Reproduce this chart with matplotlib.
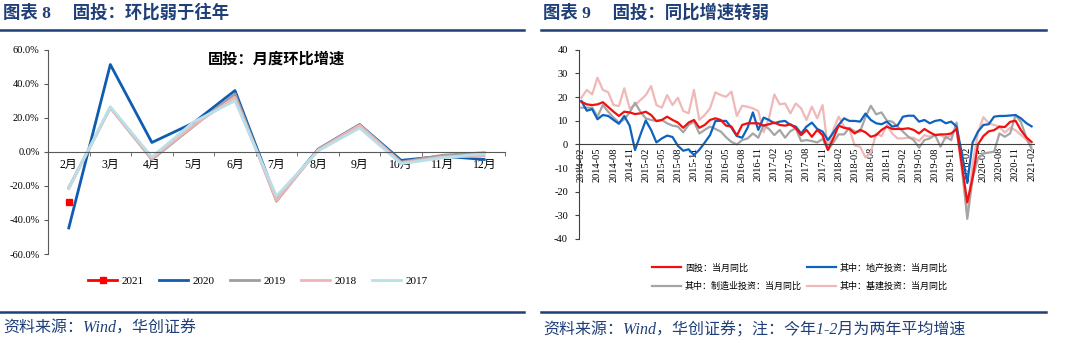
import numpy as np
import pandas as pd
import matplotlib
matplotlib.use('Agg')
import matplotlib.pyplot as plt
from matplotlib.lines import Line2D

plt.rcParams['font.family'] = ['Liberation Serif', 'Noto Sans CJK SC', 'DejaVu Sans']
plt.rcParams['axes.unicode_minus'] = False

# ---- 图表8：固投月度环比（%）----
months_cn = ['2月', '3月', '4月', '5月', '6月', '7月', '8月', '9月', '10月', '11月', '12月']
mom_2021 = [-29.3]
mom_2020 = [-44.7, 51.3, 5.5, 17.0, 36.0, -28.0, 1.5, 16.0, -5.0, -2.5, -4.5]
mom_2019 = [-21.0, 26.0, -4.5, 15.0, 34.0, -29.0, 1.5, 16.0, -6.0, -2.0, -0.5]
mom_2018 = [-21.5, 26.0, -4.0, 15.5, 32.0, -28.5, 1.0, 15.5, -6.5, -3.0, -2.5]
mom_2017 = [-21.5, 26.5, -3.0, 17.5, 30.0, -26.0, 0.5, 14.0, -7.0, -3.5, -1.0]

# ---- 图表9：当月同比（%），2014-02 ~ 2021-02 ----
month_labels = list(pd.period_range('2014-02', '2021-02', freq='M').strftime('%Y-%m'))
fai_yoy = [18.0, 16.9, 16.6, 16.9, 17.8, 15.8, 13.8, 12.0, 13.8, 13.5, 12.8, 13.1,
           13.8, 12.4, 9.8, 10.3, 11.7, 10.3, 9.2, 7.0, 9.2, 10.3, 7.0, 8.2,
           10.3, 11.0, 10.3, 7.9, 7.5, 3.7, 8.2, 8.9, 8.9, 8.9, 7.9, 8.5,
           9.2, 8.2, 7.9, 8.5, 6.8, 3.9, 6.1, 3.2, 6.1, 3.9, -2.4, 2.5,
           7.9, 7.0, 6.5, 4.6, 6.1, 5.1, 3.2, 3.9, 6.1, 7.5, 6.5, 6.5,
           6.5, 6.8, 6.1, 4.6, 6.5, 5.1, 3.9, 4.2, 4.2, 4.6, 6.5, -9.0,
           -24.5, -14.0, 0.0, 3.5, 5.5, 6.0, 7.5, 7.3, 9.5, 10.0, 6.0, 3.0, 1.0]
estate_yoy = [18.3, 14.2, 14.9, 10.6, 12.4, 12.0, 10.3, 8.7, 12.0, 7.9, -2.4, 4.0,
              10.1, 6.1, 0.8, 2.5, 3.7, 3.1, -0.6, -2.7, -2.1, -4.5, -2.3, 0.7, 3.9, 9.9, 9.9,
              9.9, 7.0, 3.5, 2.8, 7.0, 13.5, 6.1, 11.3, 10.3, 8.9, 9.6, 9.9, 8.2, 7.5,
              4.6, 7.5, 9.2, 6.5, 5.4, 1.8, 5.0, 8.2, 11.0, 9.9, 9.9, 9.6, 13.0,
              10.3, 8.9, 8.5, 9.6, 7.5, 8.0, 11.7, 12.1, 12.1, 9.6, 10.3, 8.9, 9.9, 10.3,
              8.9, 9.6, 7.5, -4.0, -16.3, 0.8, 5.4, 8.2, 8.5, 11.7, 12.0, 12.0, 12.2,
              12.4, 11.0, 9.0, 7.6]
manu_yoy = [15.5, 15.5, 15.5, 11.7, 16.6, 13.8, 11.3, 9.2, 10.6, 13.5, 17.6, 13.8,
            11.0, 10.3, 9.9, 10.3, 8.9, 7.9, 7.5, 5.1, 8.2, 9.6, 4.6, 6.1, 7.5, 6.5, 5.4,
            3.0, 1.0, 0.0, 1.8, 2.5, 4.6, 2.8, 8.2, 6.5, 3.9, 6.1, 2.8, 5.6, 6.8,
            1.4, 1.8, 1.4, 0.8, 2.3,
            -2.4, 0.8, 4.2, 4.2, 7.0, 5.4, 5.4, 11.5, 16.3, 12.7, 13.5, 10.0, 9.6,
            7.5, 5.4, 3.2, 1.8, -1.4, 1.8, 2.5, 3.9, -1.0, 3.2, 1.8, 9.2, -8.7,
            -31.5, -14.4, -5.9, -3.8, -3.5, -3.1, 4.6, 3.2, 4.6, 12.4, 9.5, 3.0, -2.0]
infra_yoy = [19.7, 23.0, 21.1, 28.2, 23.0, 22.0, 16.6, 16.2, 23.7, 15.2, 16.6, 18.7,
             20.8, 24.6, 16.6, 15.5, 20.8, 16.6, 19.7, 14.1, 13.1, 23.0, 10.3, 12.4, 15.2,
             22.0, 20.8,
             20.1, 22.3, 12.0, 16.3, 15.9, 15.2, 14.1, 5.1, 11.0, 21.1, 16.9, 17.3, 13.1,
             17.3, 15.2, 10.3, 15.9, 11.0, 16.6,
             -2.0, 6.1, 11.7, 7.5, 6.5, -0.5, -1.0, -5.5, -3.5, 4.6, 3.5, 8.2, 4.5,
             2.5, 2.5, 2.8, 2.8, 1.4, 3.9, 3.2, 4.2, 3.9, 2.5, 3.9, 7.0, -11.5,
             -30.0, -8.0, 5.0, 11.5, 8.9, 8.2, 7.5, 5.0, 7.0, 6.0, 4.0, 2.0, -1.0]

NAVY = '#1f3f78'
W, H = 1072, 350

fig = plt.figure(figsize=(W / 100, H / 100), dpi=100)


def fx(px):
    return px / W


def fy(px):
    return 1 - px / H


# 标题、横线、来源
title_font = dict(family=['Liberation Serif', 'Noto Sans CJK SC'], weight='bold',
                  color=NAVY, fontsize=12.5, va='center', ha='left')
fig.text(fx(3), fy(13), '图表 8\u3000 固投：环比弱于往年', **title_font)
fig.text(fx(543), fy(13), '图表 9\u3000 固投：同比增速转弱', **title_font)
for y in (30, 311.5):
    fig.add_artist(Line2D([fx(0), fx(524)], [fy(y), fy(y)], color=NAVY, lw=1.8))
    fig.add_artist(Line2D([fx(541), fx(1046)], [fy(y), fy(y)], color=NAVY, lw=1.8))
src_font = dict(family=['Liberation Serif', 'Noto Sans CJK SC'], style='italic',
                color=NAVY, fontsize=11.5, va='center', ha='left')
fig.text(fx(3), fy(329), '资料来源：Wind，华创证券', **src_font)
fig.text(fx(543), fy(330), '资料来源：Wind，华创证券；注：今年1-2月为两年平均增速', **src_font)

# ---- 左图 ----
ax1 = fig.add_axes([fx(48), fy(254), fx(505 - 48), (254 - 49.7) / H])
x = np.arange(len(months_cn))
ax1.plot(x[:len(mom_2021)], mom_2021, color='#ff0000', marker='s', ms=5, lw=2, label='2021')
ax1.plot(x, mom_2020, color='#0f5db0', lw=2, label='2020')
ax1.plot(x, mom_2019, color='#9e9e9e', lw=2, label='2019')
ax1.plot(x, mom_2018, color='#f0b4b4', lw=2, label='2018')
ax1.plot(x, mom_2017, color='#b9dfe9', lw=2, label='2017')
for s in ('top', 'right'):
    ax1.spines[s].set_visible(False)
ax1.spines['bottom'].set_position(('data', 0))
ax1.spines['bottom'].set_color('#595959')
ax1.spines['left'].set_color('#595959')
ax1.set_xlim(-0.5, len(months_cn) - 0.5)
ax1.set_ylim(-60, 60)
ax1.set_yticks(np.arange(-60, 61, 20))
ax1.yaxis.set_major_formatter(lambda v, p: f'{v:.1f}%')
ax1.set_xticks(x)
ax1.set_xticklabels(months_cn)
ax1.set_xticks(np.arange(-0.5, len(months_cn), 1), minor=True)
ax1.tick_params(axis='x', which='major', length=0, pad=5, labelsize=8.5)
ax1.tick_params(axis='x', which='minor', length=3, color='#595959')
ax1.tick_params(axis='y', length=3, color='#595959', pad=3, labelsize=7.5)
ax1.text(0.5, 0.955, '固投：月度环比增速', transform=ax1.transAxes, ha='center', va='center',
         family=['Noto Sans CJK SC'], fontsize=11, weight='bold')
fig.legend(*ax1.get_legend_handles_labels(), loc='center', bbox_to_anchor=(fx(258), fy(281)),
           ncol=5, frameon=False, fontsize=8, handlelength=2.6, columnspacing=1.4,
           handletextpad=0.4)

# ---- 右图 ----
ax2 = fig.add_axes([fx(579), fy(239), fx(1034 - 579), (239 - 49.7) / H])
t = np.arange(len(month_labels))
ax2.plot(t, infra_yoy, color='#f0b8b8', lw=1.6, label='其中：基建投资：当月同比')
ax2.plot(t, manu_yoy, color='#a5a5a5', lw=1.6, label='其中：制造业投资：当月同比')
ax2.plot(t, estate_yoy, color='#0e63c0', lw=1.6, label='其中：地产投资：当月同比')
ax2.plot(t, fai_yoy, color='#f01010', lw=1.6, label='固投：当月同比')
for s in ('top', 'right'):
    ax2.spines[s].set_visible(False)
ax2.spines['bottom'].set_position(('data', 0))
ax2.spines['bottom'].set_color('#404040')
ax2.spines['left'].set_color('#404040')
ax2.set_xlim(-0.45, len(t) - 1 + 0.45)
ax2.set_ylim(-40, 40)
ax2.set_yticks(np.arange(-40, 41, 10))
ax2.set_xticks(t[::3])
ax2.set_xticklabels(month_labels[::3])
ax2.tick_params(axis='x', length=0, pad=2, labelsize=7.5, labelrotation=90)
ax2.tick_params(axis='y', length=3, color='#404040', pad=5, labelsize=7.5)

hs, ls = ax2.get_legend_handles_labels()
order = [3, 1, 2, 0]
fig.legend([hs[i] for i in order], [ls[i] for i in order], loc='center',
           bbox_to_anchor=(fx(800), fy(277)), ncol=2, frameon=False,
           prop=dict(family=['Noto Sans CJK SC'], size=6.5), handlelength=3.2,
           columnspacing=0.6, handletextpad=0.4, labelspacing=1.0)

fig.savefig('out.png', dpi=100)
